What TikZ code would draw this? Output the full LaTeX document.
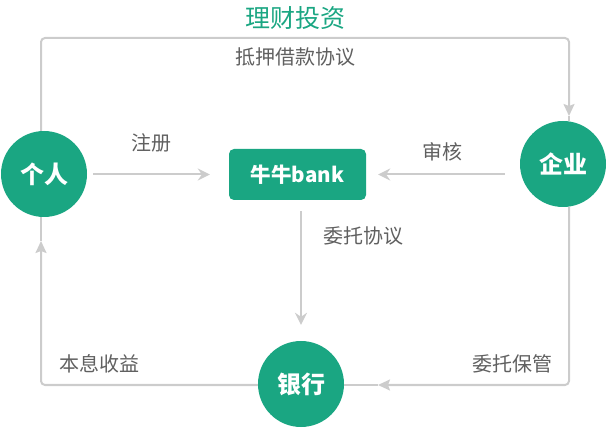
\documentclass[tikz,border=0pt]{standalone}
\usepackage{fontspec}
\setmainfont{Noto Sans CJK SC}
\usepackage{xcolor}
\usetikzlibrary{arrows.meta}
\definecolor{leaf}{RGB}{26,166,130}
\definecolor{wire}{RGB}{204,204,204}
\definecolor{ink}{RGB}{96,96,96}

\begin{document}
\begin{tikzpicture}[x=1pt, y=-1pt,
    party/.style={circle, fill=leaf, text=white, minimum size=86pt, inner sep=0pt,
      font=\fontsize{24}{27}\selectfont\bfseries},
    platform/.style={rectangle, rounded corners=5pt, fill=leaf, text=white,
      minimum width=137pt, minimum height=51pt, inner sep=0pt,
      font=\fontsize{20.5}{24}\selectfont\bfseries},
    tag/.style={text=ink, inner sep=0pt, font=\fontsize{20}{23}\selectfont},
    flow/.style={draw=wire, line width=2pt, -{Stealth[length=12pt, width=12pt, inset=4pt]}},
    frame/.style={draw=wire, line width=2pt, rounded corners=4pt}]
            \useasboundingbox (0,0) rectangle (608,430);
            \node[text=leaf, inner sep=0pt, font=\fontsize{25}{28}\selectfont] (title) at (295, 18) {理财投资};
            \node[tag] (mortgage) at (295, 57) {抵押借款协议};
            \node[party] (person) at (44, 174) {个人};
            \node[party] (firm) at (563, 164) {企业};
            \node[party] (bank) at (301, 384) {银行};
            \node[platform] (niuniu) at (297.5, 174.5) {牛牛bank};
            \node[tag] (register) at (151, 143) {注册};
            \node[tag] (audit) at (442, 152) {审核};
            \node[tag] (entrust) at (363, 236) {委托协议};
            \node[tag] (interest) at (99, 364) {本息收益};
            \node[tag] (custody) at (512, 364) {委托保管};
            \coordinate (tl) at (41, 38);
            \coordinate (tr) at (569, 38);
            \coordinate (tipR) at (569, 116);
            \coordinate (tipB) at (378, 385);
            \coordinate (tipL) at (41, 241);
            \draw[flow, shorten <=6pt, shorten >=19pt] (person.east |- niuniu) -- (niuniu.west);
            \draw[flow, shorten <=15pt, shorten >=12pt] (firm.west |- niuniu) -- (niuniu.east);
            \draw[flow, shorten <=11pt, shorten >=16pt] (niuniu.south -| bank) -- (bank.north);
            \draw[frame, -{Stealth[length=12pt, width=11pt, inset=2pt]}] (tl |- person.north) |- (tr) -- (tipR);
            \draw[frame] (tipR) -- (tipR |- firm.north);
            \draw[frame, -{Stealth[length=12pt, width=11pt, inset=2pt]}] (tr |- firm.south) |- (tipB);
            \draw[frame] (tipB) -- (bank.east |- tipB);
            \draw[frame, -{Stealth[length=12pt, width=11pt, inset=2pt]}] (bank.west |- tipB) -| (tipL);
            \draw[frame] (tipL) -- (tl |- person.south);
          \end{tikzpicture}
\end{document}
